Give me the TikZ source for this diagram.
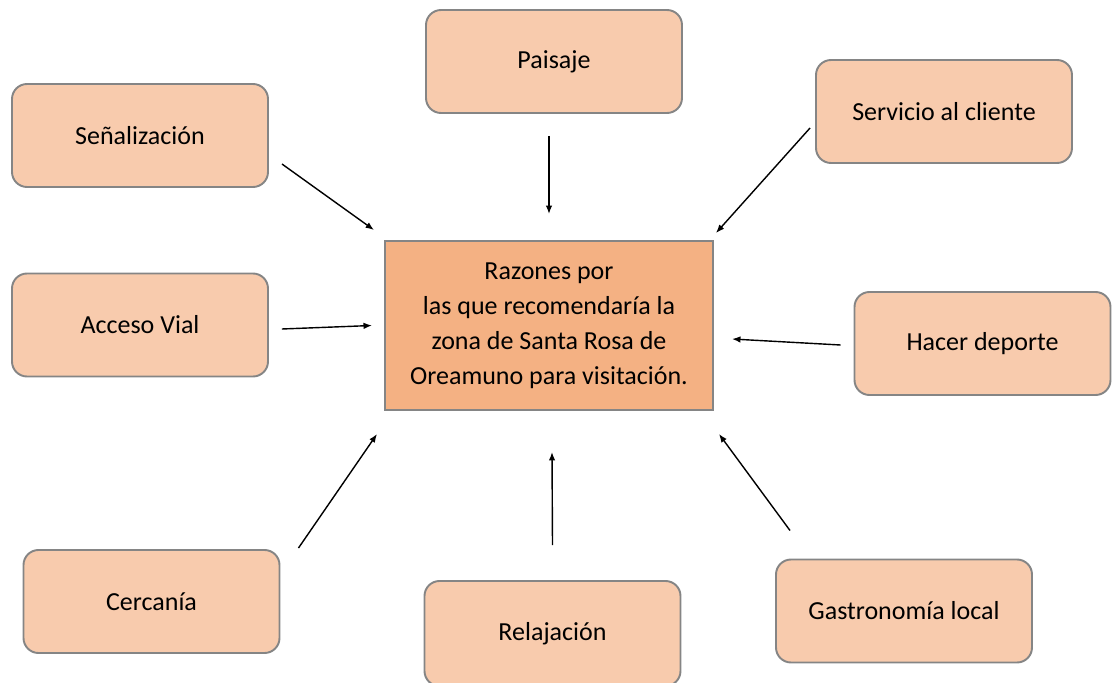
\documentclass[tikz,border=0pt]{standalone}
\usepackage{fontspec}
\setmainfont{Carlito}
\usetikzlibrary{arrows.meta}
\definecolor{cajaclara}{HTML}{F8CBAD}
\definecolor{cajacentro}{HTML}{F4B183}
\definecolor{borde}{HTML}{858585}
\tikzset{
  caja/.style={draw=borde, line width=1.1pt, fill=cajaclara, rounded corners=0.3cm,
    minimum width=5.12cm, minimum height=2.06cm, inner sep=0pt,
    font=\fontsize{14.8}{19.9}\selectfont},
  centro/.style={draw=borde, line width=1.1pt, fill=cajacentro,
    minimum width=6.56cm, minimum height=3.38cm, inner sep=0pt, align=center,
    font=\fontsize{14.8}{19.9}\selectfont},
  flecha/.style={line width=0.8pt, -{Latex[length=1.7mm,width=1.3mm]}}
}
\begin{document}
\begin{tikzpicture}
\useasboundingbox (0,0) rectangle (22.24,13.64);

\node[centro] (razones) at (10.98,7.13) {Razones por\\las que recomendaría la\\zona de Santa Rosa de\\Oreamuno para visitación.};

\node[caja] (senal) at (2.80,10.93) {Señalización};
\node[caja] (paisaje) at (11.08,12.41) {Paisaje};
\node[caja] (servicio) at (18.88,11.41) {Servicio al cliente};
\node[caja] (acceso) at (2.80,7.14) {Acceso Vial};
\node[caja] (deporte) at (19.65,6.77) {Hacer deporte};
\node[caja] (cercania) at (3.03,1.61) {Cercanía};
\node[caja, minimum height=2.10cm] (relajacion) at (11.05,0.97) {Relajación};
\node[caja] (gastro) at (18.08,1.42) {Gastronomía local};


\draw[flecha] ([shift={(0.26,-0.57)}]senal.east) -- ([shift={(-0.20,0.20)}]razones.north west);
\draw[flecha] ([shift={(-0.10,-0.44)}]paisaje.south) -- ([yshift=0.52cm]razones.north);
\draw[flecha] ([shift={(-0.10,-0.33)}]servicio.west) -- ([shift={(0.04,0.14)}]razones.north east);
\draw[flecha] ([shift={(0.26,-0.08)}]acceso.east) -- ([xshift=-0.24cm]razones.west);
\draw[flecha] ([shift={(-0.26,-0.03)}]deporte.west) -- ([shift={(0.36,-0.27)}]razones.east);
\draw[flecha] ([shift={(0.36,0.02)}]cercania.north east) -- ([shift={(-0.14,-0.46)}]razones.south west);
\draw[flecha] ([yshift=0.70cm]relajacion.north) -- ([shift={(0.06,-0.82)}]razones.south);
\draw[flecha] ([shift={(0.30,0.56)}]gastro.north west) -- ([shift={(0.10,-0.46)}]razones.south east);
\end{tikzpicture}
\end{document}
